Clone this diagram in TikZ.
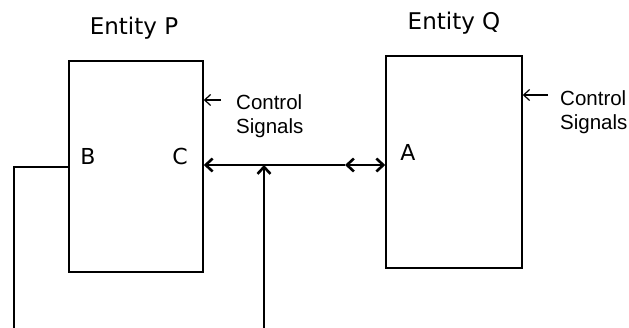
\documentclass[tikz,border=0pt]{standalone}
\usepackage{fontspec}
\setmainfont{DejaVu Sans}
\newfontfamily\ctlfont{Liberation Sans}
\usetikzlibrary{arrows.meta}

\begin{document}
\begin{tikzpicture}[x=1pt,y=-1pt,
    entity/.style={draw,line width=1.5pt,inner sep=0pt},
    title/.style={font=\fontsize{23}{27}\selectfont,inner sep=0pt},
    port/.style={font=\fontsize{22}{26}\selectfont,inner sep=0pt},
    ctltext/.style={font=\ctlfont\fontsize{20.5}{24}\selectfont,align=left,inner sep=0pt},
    bus/.style={line width=2.6pt},
    ctl/.style={line width=1.2pt,-{Straight Barb[length=6pt,width=11pt]}},
    >={Straight Barb[length=7pt,width=13pt]}]
  \useasboundingbox (0,0) rectangle (629,328);

  % The two entities and their titles.
  \node[entity,minimum width=134pt,minimum height=211pt] (P) at (136,166.5) {};
  \node[entity,minimum width=136pt,minimum height=212pt] (Q) at (454,162) {};
  \node[title,anchor=base] (titleP) at (134,35) {Entity P};
  \node[title,anchor=base] (titleQ) at (454,30) {Entity Q};

  % Port letters inside the boxes.
  \node[port] (portB) at (88,156) {B};
  \node[port] (portC) at (180,156) {C};
  \node[port] (portA) at (408,152) {A};

  % Control inputs on the right side of each box.
  \foreach \ent/\x/\y/\tx/\ty in {P/221/100/236/94, Q/548/95/560/90} {
    \coordinate (ctl\ent) at (\x,\y);
    \draw[ctl] (ctl\ent) -- (ctl\ent -| \ent.east);
    \node[ctltext,anchor=north west] (sig\ent) at (\tx,\ty) {Control\\Signals};
  }

  % Bus between C and A, with a tap from below.
  \coordinate (busJ) at (345,165);
  \coordinate (tapEnd) at (264,328);
  \draw[bus,<-] (busJ -| P.east) -- (busJ);
  \draw[bus,<->] (busJ) -- (busJ -| Q.west);
  \draw[bus,->] (tapEnd) -- (tapEnd |- busJ);

  % Line leaving B to the left and down.
  \coordinate (bTurn) at (14,167);
  \coordinate (bEnd) at (14,328);
  \draw[bus] (bTurn -| P.west) -- (bTurn) -- (bEnd);
\end{tikzpicture}
\end{document}
